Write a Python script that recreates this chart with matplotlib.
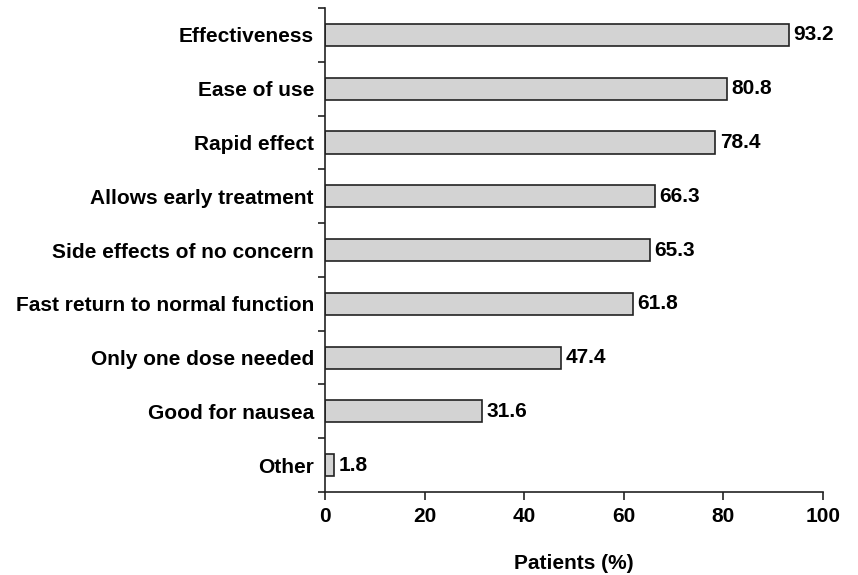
import matplotlib
matplotlib.use("Agg")
import matplotlib.pyplot as plt

categories = ["Effectiveness", "Ease of use", "Rapid effect", "Allows early treatment",
              "Side effects of no concern", "Fast return to normal function",
              "Only one dose needed", "Good for nausea", "Other"]
values = [93.2, 80.8, 78.4, 66.3, 65.3, 61.8, 47.4, 31.6, 1.8]
xticks = [0, 20, 40, 60, 80, 100]

plt.rcParams['font.family'] = ['Liberation Sans', 'DejaVu Sans']
plt.rcParams['font.weight'] = 'bold'
FS = 15

fig = plt.figure(figsize=(8.58, 5.75), dpi=100)
ax = fig.add_axes([0.3788, 0.1443, 0.5804, 0.8417])

n = len(categories)
ypos = [n - 1 - i for i in range(n)]
ax.barh(ypos, values, height=0.41, color="#d3d3d3", edgecolor="#222222", linewidth=1.2)
for y, v in zip(ypos, values):
    ax.text(v + 0.9, y, f"{v:.1f}", va="center", ha="left", fontsize=FS, fontweight="bold")

ax.set_xlim(0, 100)
ax.set_ylim(-0.5, n - 0.5)
ax.set_xticks(xticks)
ax.set_xticklabels([str(t) for t in xticks], fontsize=FS, fontweight="bold")
ax.set_yticks([y - 0.5 for y in range(n + 1)])
ax.set_yticklabels([])
ax.set_yticks(ypos, minor=True)
ax.set_yticklabels(categories, minor=True, fontsize=FS, fontweight="bold")
ax.tick_params(axis="y", which="minor", length=0, pad=8)
ax.tick_params(axis="y", which="major", length=5, width=1.2, direction="out", color="#222222")
ax.tick_params(axis="x", length=6, width=1.2, direction="out", color="#222222", pad=5)
for s in ["top", "right"]:
    ax.spines[s].set_visible(False)
for s in ["left", "bottom"]:
    ax.spines[s].set_linewidth(1.2)
    ax.spines[s].set_color("#222222")
ax.set_xlabel("Patients (%)", fontsize=FS, fontweight="bold", labelpad=20)

fig.savefig("out.png", dpi=100)
